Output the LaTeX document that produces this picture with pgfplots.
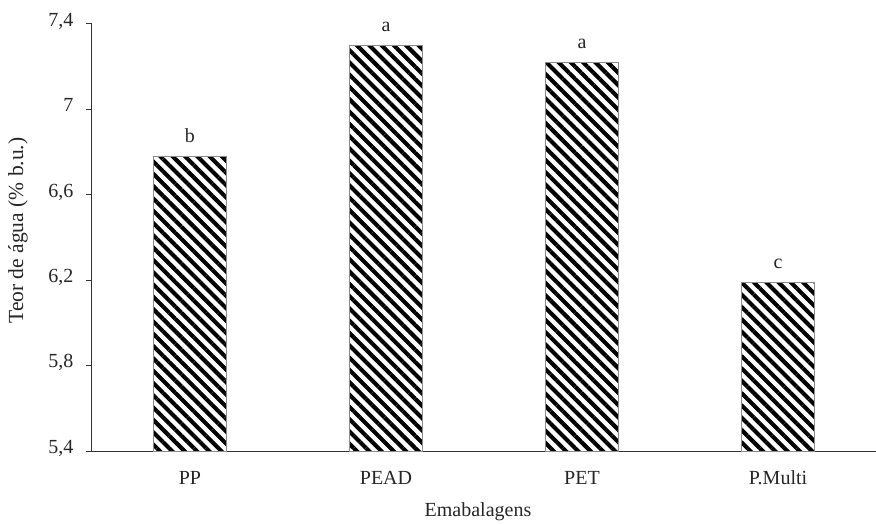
\documentclass[border=0pt]{standalone}
\usepackage{fontspec}
\setmainfont{Liberation Serif}
\usepackage{pgfplots}
\pgfplotsset{compat=1.18}
\usetikzlibrary{patterns.meta}
\begin{document}
\begin{tikzpicture}
\useasboundingbox (-92pt,-74pt) rectangle (784pt,451pt);
\begin{axis}[
  at={(0pt,0pt)}, anchor=south west,
  scale only axis, width=784pt, height=427pt,
  xmin=-0.5, xmax=3.5, ymin=5.4, ymax=7.4,
  axis y line=left, axis x line=bottom,
  axis line style={-, line width=1pt, black!80},
  xtick=data, xticklabels={PP,PEAD,PET,P.Multi},
  x tick style={draw=none},
  ytick={5.4,5.8,6.2,6.6,7,7.4},
  y tick style={draw=black!80, line width=1pt},
  ytick align=outside, major tick length=6pt,
  /pgf/number format/use comma,
  /pgf/number format/assume math mode=true,
  tick label style={font=\fontsize{20}{22}\selectfont, text=black!85},
  xticklabel style={anchor=base, yshift=-27pt},
  yticklabel style={anchor=mid east, xshift=-9pt},
  every axis x label/.style={at={(rel axis cs:0.5,0)}, anchor=center, yshift=-61pt, xshift=-6pt, font=\fontsize{20}{22}\selectfont, text=black!85},
  every axis y label/.style={at={(rel axis cs:0,0.5)}, rotate=90, anchor=center, yshift=74pt, xshift=7pt, font=\fontsize{21.5}{24}\selectfont, text=black!85},
  xlabel={Emabalagens}, ylabel={Teor de água (\% b.u.)},
  ybar, bar width=73pt,
  point meta=explicit symbolic,
  nodes near coords,
  nodes near coords style={font=\fontsize{20}{22}\selectfont, text=black!85, anchor=base, yshift=14pt},
  clip=false,
]
\addplot[draw=black!45, line width=0.6pt,
  pattern={Lines[angle=-45, distance=8.7pt, line width=4.1pt]}, pattern color=black]
  coordinates {(0,6.78) [b] (1,7.30) [a] (2,7.22) [a] (3,6.19) [c]};
\end{axis}
\end{tikzpicture}
\end{document}
